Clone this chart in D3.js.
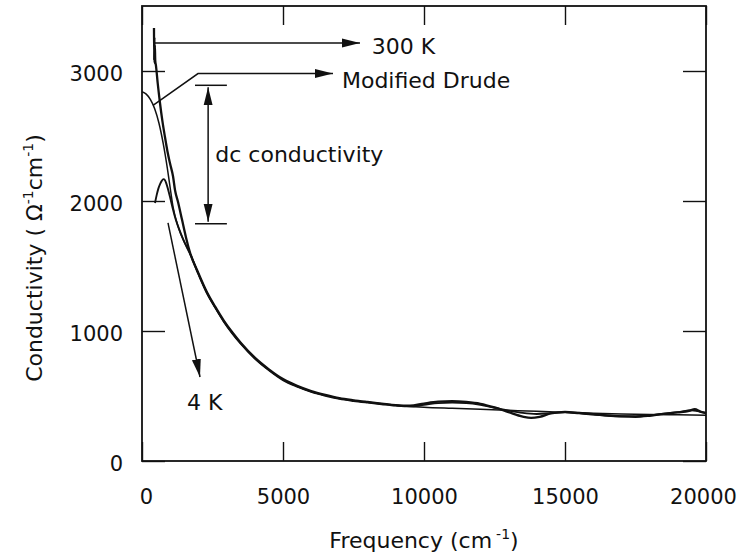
<!DOCTYPE html>
<html>
<head>
<meta charset="utf-8">
<script src="https://cdn.jsdelivr.net/npm/d3@7"></script>
<style>
  body { margin: 0; background: #fff; }
  text { font-family: 'DejaVu Sans', sans-serif; fill: #111; }
</style>
</head>
<body>
<div id="chart"></div>
<script>
// axis ticks
const freqTicks = [0, 5000, 10000, 15000, 20000]
const condTicks = [0, 1000, 2000, 3000]

// 300 K spectrum (cm-1 , ohm-1 cm-1)
const freq300K = [425, 432, 440, 448, 455, 470, 496, 560, 640, 720, 816, 900, 993,
    1100, 1170, 1280, 1420, 1560, 1700, 2000, 2300, 2600, 2900, 3200, 3500,
    4000, 4500, 5000, 5500, 6000, 6500, 7000, 7500, 8000, 8500, 9000, 9500,
    10000, 10500, 11000, 11500, 12000, 12500, 13000, 13500, 13800, 14100, 14500,
    15000, 15500, 16000, 16500, 17000, 17500, 18000, 18500, 19000, 19400, 19600, 19800, 20000]
const sigma300K = [3330, 3080, 3260, 3060, 3200, 3080, 3040, 2900, 2750, 2620, 2490, 2385, 2290,
    2190, 2085, 1990, 1855, 1720, 1605, 1445, 1300, 1185, 1080, 990, 910,
    795, 705, 630, 578, 538, 508, 483, 467, 454, 442, 430, 425,
    442, 456, 460, 454, 440, 412, 376, 342, 332, 340, 366,
    378, 370, 360, 350, 343, 340, 348, 362, 374, 386, 398, 380, 368]

// 4 K spectrum
const freq4K = [461, 520, 580, 640, 700, 760, 816, 870, 930, 1000, 1100, 1200, 1350, 1500, 1700,
    2000, 2300, 2600, 2900, 3200, 3500,
    4000, 4500, 5000, 5500, 6000, 6500, 7000, 7500, 8000, 8500, 9000, 9500,
    10000, 10500, 11000, 11500, 12000, 12500, 13000, 13500, 14000, 14500,
    15000, 15500, 16000, 16500, 17000, 17500, 18000, 18500, 19000, 19500, 19700, 20000]
const sigma4K = [1985, 2045, 2095, 2130, 2155, 2168, 2160, 2130, 2085, 2025, 1935, 1855, 1765, 1685, 1595,
    1437, 1292, 1178, 1072, 982, 902,
    788, 698, 622, 572, 532, 502, 478, 462, 449, 437, 426, 420,
    432, 445, 449, 446, 433, 410, 388, 370, 362, 368,
    374, 366, 357, 349, 344, 345, 352, 364, 376, 390, 384, 370]

// modified Drude fit
const freqDrude = [0, 150, 300, 450, 600, 750, 900, 1000, 1100, 1300, 1500, 1700,
    2000, 2300, 2600, 2900, 3200, 3500,
    4000, 4500, 5000, 5500, 6000, 6500, 7000, 7500, 8000, 8500, 9000, 9500,
    10000, 11000, 12000, 13000, 14000, 15000, 16000, 17000, 18000, 19000, 20000]
const sigmaDrude = [2840, 2822, 2780, 2710, 2600, 2445, 2250, 2100, 1955, 1790, 1685, 1600,
    1440, 1295, 1180, 1075, 985, 905,
    790, 700, 625, 575, 535, 505, 480, 465, 452, 440, 428, 420,
    413, 405, 398, 390, 382, 375, 368, 362, 358, 355, 352]

// dc conductivity levels marked with the double arrow
const dcLevels = [2890, 1825]

const dim = { width: 738, height: 556, left: 142, right: 706, top: 6, bottom: 461 }

const svg = d3.select('#chart')
    .append('svg')
    .attr('width', dim.width)
    .attr('height', dim.height)

svg.append('rect').attr('width', dim.width).attr('height', dim.height).attr('fill', '#fff')

const x = d3.scaleLinear().domain([0, 20000]).range([dim.left, dim.right])
const y = d3.scaleLinear().domain([0, 3500]).range([dim.bottom, dim.top])

// arrow heads
const defs = svg.append('defs')
defs.append('marker')
    .attr('id', 'head')
    .attr('markerUnits', 'userSpaceOnUse')
    .attr('markerWidth', 18).attr('markerHeight', 10)
    .attr('refX', 18).attr('refY', 5)
    .attr('orient', 'auto-start-reverse')
    .append('path')
    .attr('d', 'M0,0.5 L18,5 L0,9.5 Z')
    .attr('fill', '#111')

// axes, ticks pointing inwards
const fontSize = 22
const tickFont = 21
const bottomAxis = svg.append('g')
    .attr('transform', `translate(0,${dim.bottom})`)
    .call(d3.axisBottom(x).tickValues(freqTicks).tickSize(-19).tickPadding(28).tickFormat(d3.format('d')))
const topAxis = svg.append('g')
    .attr('transform', `translate(0,${dim.top})`)
    .call(d3.axisTop(x).tickValues(freqTicks).tickSize(-19).tickFormat(''))
const leftAxis = svg.append('g')
    .attr('transform', `translate(${dim.left},0)`)
    .call(d3.axisLeft(y).tickValues(condTicks).tickSize(-23).tickPadding(19).tickFormat(d3.format('d')))
const rightAxis = svg.append('g')
    .attr('transform', `translate(${dim.right},0)`)
    .call(d3.axisRight(y).tickValues(condTicks).tickSize(-23).tickFormat(''))

;[bottomAxis, topAxis, leftAxis, rightAxis].forEach(g => {
    g.select('.domain').remove()
    g.selectAll('line').attr('stroke', '#111').attr('stroke-width', 1.4)
    g.selectAll('text')
        .attr('font-family', 'DejaVu Sans, sans-serif')
        .attr('font-size', tickFont)
        .attr('fill', '#111')
})
leftAxis.selectAll('text').attr('dy', '0.45em')
bottomAxis.selectAll('text').attr('dx', d => d === 0 ? 4 : (d === 20000 ? -3 : 0))

svg.append('rect')
    .attr('x', dim.left).attr('y', dim.top)
    .attr('width', dim.right - dim.left).attr('height', dim.bottom - dim.top)
    .attr('fill', 'none').attr('stroke', '#111').attr('stroke-width', 1.8)

// curves
const line = d3.line()
    .x(d => x(d[0]))
    .y(d => y(d[1]))
    .curve(d3.curveMonotoneX)

const series = [
    { name: '300 K', data: d3.zip(freq300K, sigma300K), w: 2.3 },
    { name: '4 K', data: d3.zip(freq4K, sigma4K), w: 1.9 },
    { name: 'Modified Drude', data: d3.zip(freqDrude, sigmaDrude), w: 1.5 }
]

svg.append('g')
    .selectAll('path')
    .data(series)
    .join('path')
    .attr('d', d => line(d.data))
    .attr('fill', 'none')
    .attr('stroke', '#111')
    .attr('stroke-width', d => d.w)
    .attr('stroke-linejoin', 'round')

// annotations
const ann = svg.append('g').attr('stroke', '#111').attr('stroke-width', 1.5).attr('fill', 'none')

// 300 K
ann.append('path')
    .attr('d', d3.line()([[x(461), y(3215)], [x(7730), y(3215)]]))
    .attr('marker-end', 'url(#head)')
svg.append('text')
    .attr('x', x(8150)).attr('y', y(3215) + 11)
    .attr('font-size', fontSize)
    .text('300 K')

// Modified Drude
ann.append('path')
    .attr('d', d3.line()([[x(390), y(2735)], [x(1986), y(2980)], [x(6773), y(2980)]]))
    .attr('marker-end', 'url(#head)')
svg.append('text')
    .attr('x', x(7090)).attr('y', y(2980) + 14)
    .attr('font-size', fontSize)
    .text('Modified Drude')

// dc conductivity
dcLevels.forEach(v => {
    ann.append('path')
        .attr('d', d3.line()([[x(1880), y(v)], [x(3010), y(v)]]))
})
ann.append('path')
    .attr('d', d3.line()([[x(2345), y(dcLevels[0]) + 2], [x(2345), y(dcLevels[1]) - 2]]))
    .attr('marker-start', 'url(#head)')
    .attr('marker-end', 'url(#head)')
svg.append('text')
    .attr('x', x(2600)).attr('y', y(2300))
    .attr('font-size', fontSize)
    .text('dc conductivity')

// 4 K
ann.append('path')
    .attr('d', d3.line()([[x(922), y(1831)], [x(2057), y(646)]]))
    .attr('marker-end', 'url(#head)')
svg.append('text')
    .attr('x', x(1600)).attr('y', y(392))
    .attr('font-size', fontSize)
    .text('4 K')

// axis titles
const xTitle = svg.append('text')
    .attr('x', (dim.left + dim.right) / 2).attr('y', 548)
    .attr('text-anchor', 'middle')
    .attr('font-size', fontSize)
xTitle.append('tspan').text('Frequency (cm')
xTitle.append('tspan').attr('dx', 4).attr('dy', -9).attr('font-size', 14).text('-1')
xTitle.append('tspan').attr('dy', 9).text(')')

const yTitle = svg.append('text')
    .attr('transform', 'translate(42,258) rotate(-90)')
    .attr('text-anchor', 'middle')
    .attr('font-size', fontSize)
yTitle.append('tspan').text('Conductivity ( \u03A9')
yTitle.append('tspan').attr('dy', -9).attr('font-size', 14).text('-1')
yTitle.append('tspan').attr('dy', 9).text('cm')
yTitle.append('tspan').attr('dy', -9).attr('font-size', 14).text('-1')
yTitle.append('tspan').attr('dy', 9).text(')')
</script>
</body>
</html>
